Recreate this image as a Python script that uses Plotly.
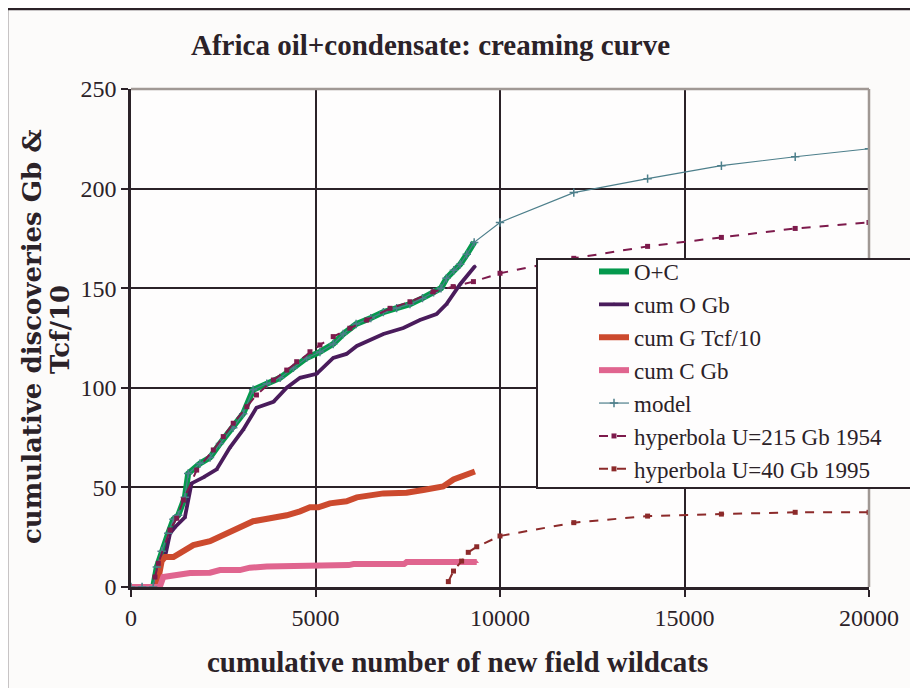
import plotly.graph_objects as go

# cumulative new-field wildcats vs cumulative discoveries
oc_x = [0, 300, 600, 700, 830, 1010, 1150, 1280, 1460, 1550, 1870, 2140, 2410, 2770, 3040,
        3310, 3680, 4040, 4400, 4760, 5120, 5480, 5750, 6100, 6500, 6840, 7200, 7560, 7900,
        8200, 8400, 8550, 8750, 8920, 9100, 9300]
oc_y = [0, 0, 0, 10, 18, 27, 34, 36, 45, 57, 62, 65, 72, 80, 87,
        99, 102, 105, 110, 115, 118, 122, 127, 132, 135, 138, 140, 142, 145,
        148, 150, 155, 159, 162, 167, 173]

oil_x = [0, 650, 790, 920, 1060, 1190, 1460, 1640, 1960, 2320, 2680, 3040, 3400, 3860, 4220,
         4580, 5030, 5480, 5840, 6120, 6840, 7380, 7830, 8280, 8550, 8920, 9320]
oil_y = [0, 0, 13, 15, 27, 30, 35, 52, 55, 59, 70, 79, 90, 93, 100,
         105, 107, 115, 117, 121, 127, 130, 134, 137, 142, 152, 161]

gas_x = [0, 700, 830, 920, 1150, 1420, 1690, 2140, 2500, 2860, 3310, 3770, 4220, 4580, 4850,
         5080, 5390, 5840, 6120, 6840, 7470, 7920, 8460, 8740, 9100, 9320]
gas_y = [0, 0, 13, 15, 15, 18, 21, 23, 26, 29, 33, 34.5, 36, 38, 40,
         40, 42, 43, 45, 47, 47.3, 48.7, 50.5, 54, 56, 58]

cond_x = [0, 780, 875, 1330, 1600, 2140, 2410, 2950, 3220, 3680, 5120, 5900, 6030, 7400,
          7470, 9370]
cond_y = [0, 0, 5, 6, 7, 7.2, 8.5, 8.5, 9.7, 10.3, 10.5, 11, 11.5, 11.5,
          12.5, 12.5]

model_tail_x = [10000, 12000, 14000, 16000, 18000, 20000]
model_tail_y = [183, 198, 205, 211.5, 216, 220]

hyp215_x = [650, 740, 1057, 1240, 1420, 1780, 2230, 2500, 2770, 3140, 3400, 3860, 4220, 4490,
            4850, 5120, 5480, 5930, 6390, 7020, 7560, 8190, 8730, 9280, 10000, 12000, 14000,
            16000, 18000, 20000]
hyp215_y = [5, 11.9, 28.6, 34.5, 43.7, 58.7, 68.8, 75.5, 82.2, 90.5, 96.4, 103.9, 108.9, 113.1,
            118.1, 121.5, 125.7, 129.9, 134, 139.9, 143.2, 148.2, 150.8, 153.3, 157.5, 165, 171,
            175.5, 180, 183]

hyp40_x = [8600, 8740, 8960, 9140, 9370, 10000, 12000, 14000, 16000, 18000, 20000]
hyp40_y = [2.7, 8, 13, 17.4, 20.2, 25.6, 32.3, 35.6, 36.6, 37.5, 37.5]

INK = "#2b2228"
SERIF = "Liberation Serif, Times New Roman, serif"

# the page body adds an 8px offset, so the figure is 8px smaller and everything
# below is given in screen pixels; plot area is 131..869 x 89..587 on screen
def px(x):
    return (x - 131) / 738

def py(y):
    return (587 - y) / 498

fig = go.Figure()
fig.add_trace(go.Scatter(x=oc_x, y=oc_y, name="O+C", mode="lines+markers",
                         line=dict(color="#05994d", width=6),
                         marker=dict(symbol="triangle-up", size=5, color="#05994d")))
fig.add_trace(go.Scatter(x=oil_x, y=oil_y, name="cum O Gb", mode="lines+markers",
                         line=dict(color="#4a1c5c", width=3.8),
                         marker=dict(symbol="triangle-up", size=4, color="#4a1c5c")))
fig.add_trace(go.Scatter(x=gas_x, y=gas_y, name="cum G Tcf/10", mode="lines",
                         line=dict(color="#cc4a2e", width=6)))
fig.add_trace(go.Scatter(x=cond_x, y=cond_y, name="cum C Gb", mode="lines+markers",
                         line=dict(color="#e0658f", width=6),
                         marker=dict(symbol="triangle-up", size=4, color="#e0658f")))
fig.add_trace(go.Scatter(x=oc_x + model_tail_x, y=oc_y + model_tail_y, name="model",
                         mode="lines+markers", line=dict(color="#4d7f8b", width=1.2),
                         marker=dict(symbol="cross-thin", size=6,
                                     line=dict(color="#4d7f8b", width=1.5))))
fig.add_trace(go.Scatter(x=hyp215_x, y=hyp215_y, name="hyperbola U=215 Gb 1954",
                         mode="lines+markers", line=dict(color="#7d1a4c", width=2, dash="dash"),
                         marker=dict(symbol="square", size=5, color="#7d1a4c")))
fig.add_trace(go.Scatter(x=hyp40_x, y=hyp40_y, name="hyperbola U=40 Gb 1995",
                         mode="lines+markers", line=dict(color="#8c2a2a", width=2, dash="dash"),
                         marker=dict(symbol="square", size=5, color="#8c2a2a")))

shapes = [
    # outer frame of the picture
    dict(type="rect", xref="paper", yref="paper", x0=px(7), x1=px(930), y0=py(700), y1=py(9),
         line=dict(color=INK, width=2.5), layer="below"),
    # grey top and right edges of the plot area
    dict(type="line", xref="paper", yref="paper", x0=0, x1=1, y0=1, y1=1,
         line=dict(color="#a09894", width=2.5), layer="above"),
    dict(type="line", xref="paper", yref="paper", x0=1, x1=1, y0=0, y1=1,
         line=dict(color="#a09894", width=2.5), layer="above"),
    # legend box
    dict(type="rect", xref="paper", yref="paper", x0=px(537), x1=px(935), y0=py(488), y1=py(259),
         line=dict(color=INK, width=2), fillcolor="#fefdfd", layer="above"),
]

ytitle_font = dict(family="DejaVu Serif, serif", size=26, color=INK)

fig.update_layout(
    width=910, height=680,
    margin=dict(l=123, r=49, t=81, b=101),
    paper_bgcolor="#fcfbfa", plot_bgcolor="#fefdfd",
    font=dict(family=SERIF, color=INK, size=24),
    showlegend=True,
    legend=dict(x=px(594), y=py(250), xanchor="left", yanchor="top",
                bgcolor="rgba(0,0,0,0)", borderwidth=0,
                font=dict(family=SERIF, size=23, color=INK), tracegroupgap=0),
    shapes=shapes,
    annotations=[
        dict(text="<b>Africa oil+condensate: creaming curve</b>", xref="paper", yref="paper",
             x=px(430), y=py(45), xanchor="center", yanchor="middle", showarrow=False,
             font=dict(family=SERIF, size=29, color=INK)),
        dict(text="<b>cumulative number of new field wildcats</b>", xref="paper", yref="paper",
             x=px(457), y=py(662), xanchor="center", yanchor="middle", showarrow=False,
             font=dict(family=SERIF, size=29, color=INK)),
        dict(text="<b>cumulative discoveries Gb &amp;</b>", xref="paper", yref="paper",
             x=px(32), y=py(337), xanchor="center", yanchor="middle", showarrow=False,
             textangle=-90, font=ytitle_font),
        dict(text="<b>Tcf/10</b>", xref="paper", yref="paper",
             x=px(60), y=py(330), xanchor="center", yanchor="middle", showarrow=False,
             textangle=-90, font=ytitle_font),
    ],
)
fig.update_xaxes(range=[0, 20000], tickvals=[0, 5000, 10000, 15000, 20000], tickformat="d",
                 showgrid=True, gridcolor=INK, gridwidth=2, zeroline=False,
                 showline=True, linecolor=INK, linewidth=2.5,
                 ticks="outside", ticklen=7, tickwidth=2, tickcolor=INK,
                 tickfont=dict(family=SERIF, size=24, color=INK))
fig.update_yaxes(range=[0, 250], tickvals=[0, 50, 100, 150, 200, 250],
                 showgrid=True, gridcolor=INK, gridwidth=2, zeroline=False,
                 showline=True, linecolor=INK, linewidth=2.5,
                 ticks="outside", ticklen=7, tickwidth=2, tickcolor=INK,
                 tickfont=dict(family=SERIF, size=24, color=INK))

fig.write_html("out.html")
